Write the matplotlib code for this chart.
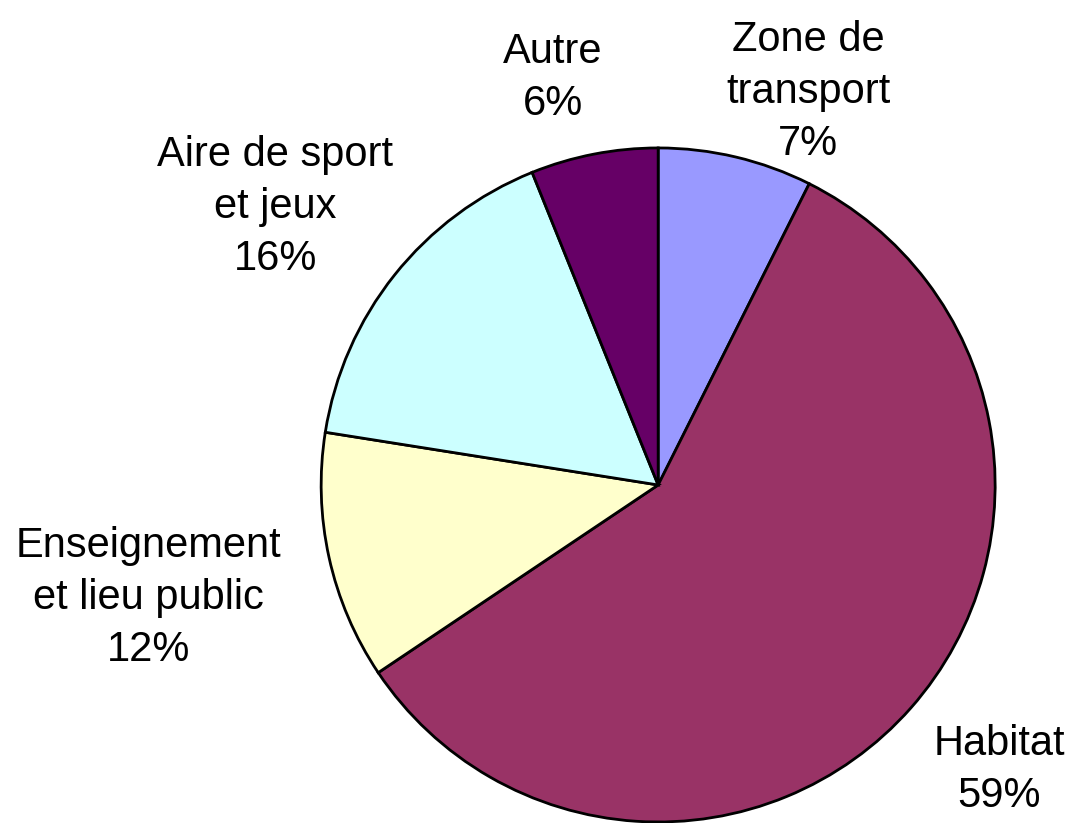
import matplotlib.pyplot as plt

plt.rcParams['font.family'] = ['Liberation Sans', 'DejaVu Sans']

categories = ['Zone de\ntransport', 'Habitat', 'Enseignement\net lieu public',
              'Aire de sport\net jeux', 'Autre']
values = [7.4, 58.2, 11.9, 16.4, 6.1]
pct_labels = ['7%', '59%', '12%', '16%', '6%']
colors = ['#9999FF', '#993366', '#FFFFCC', '#CCFFFF', '#660066']

# label positions (pie radius = 1)
label_pos = [(0.445, 1.166), (1.012, -0.846), (-1.513, -0.335),
             (-1.136, 0.825), (-0.312, 1.208)]

fig = plt.figure(figsize=(10.73, 8.23), dpi=100)
ax = fig.add_axes([0, 0, 1, 1])

ax.pie(values, colors=colors, startangle=90, counterclock=False,
       radius=1.0, center=(0, 0),
       wedgeprops={'edgecolor': 'black', 'linewidth': 2})

for cat, pct, (x, y) in zip(categories, pct_labels, label_pos):
    ax.text(x, y, cat + '\n' + pct, ha='center', va='center',
            fontsize=30, linespacing=1.38, color='black')

ax.set_xlim(-1.953, 1.231)
ax.set_ylim(-1.003, 1.439)
ax.set_aspect('auto')
ax.axis('off')

fig.savefig('out.png', dpi=100)
